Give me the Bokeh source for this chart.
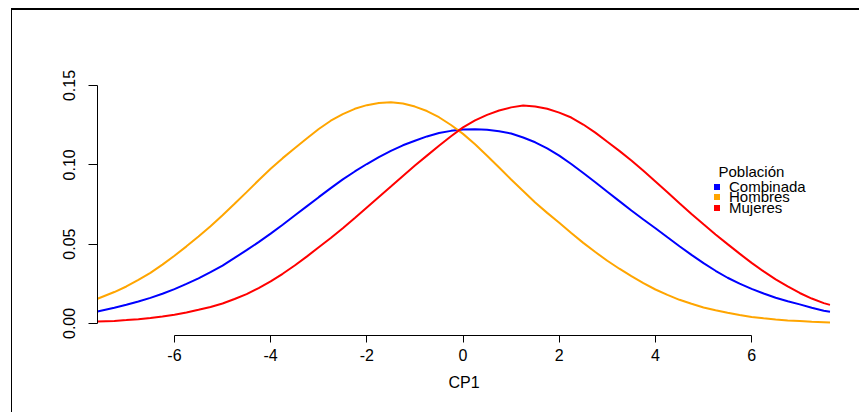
from bokeh.plotting import figure
from bokeh.models import (Range1d, FixedTicker, NumeralTickFormatter, Legend,
                          LegendItem, Label, ColumnDataSource)
from bokeh.embed import file_html
from bokeh.resources import INLINE

# ---- data (density curves of CP1) ----
cp1 = [-7.6, -7.25, -7.0, -6.75, -6.5, -6.25, -6.0, -5.75, -5.5, -5.25, -5.0,
       -4.75, -4.5, -4.25, -4.0, -3.75, -3.5, -3.25, -3.0, -2.75, -2.5, -2.25,
       -2.0, -1.75, -1.5, -1.25, -1.0, -0.75, -0.5, -0.25, 0.0, 0.25, 0.5,
       0.75, 1.0, 1.25, 1.5, 1.75, 2.0, 2.25, 2.5, 2.75, 3.0, 3.25, 3.5, 3.75,
       4.0, 4.25, 4.5, 4.75, 5.0, 5.25, 5.5, 5.75, 6.0, 6.25, 6.5, 6.75, 7.0,
       7.25, 7.5, 7.63]
combinada = [0.0075, 0.0099, 0.0118, 0.0138, 0.0161, 0.0187, 0.0216, 0.0249,
             0.0284, 0.0323, 0.0365, 0.0413, 0.0462, 0.0513, 0.0566, 0.0622,
             0.0680, 0.0738, 0.0796, 0.0853, 0.0908, 0.0958, 0.1005, 0.1049,
             0.1088, 0.1123, 0.1152, 0.1179, 0.1200, 0.1214, 0.1222, 0.1224,
             0.1221, 0.1212, 0.1197, 0.1172, 0.1142, 0.1103, 0.1058, 0.1005,
             0.0948, 0.0890, 0.0830, 0.0771, 0.0712, 0.0655, 0.0600, 0.0543,
             0.0487, 0.0432, 0.0380, 0.0332, 0.0288, 0.0251, 0.0218, 0.0189,
             0.0162, 0.0140, 0.0120, 0.0099, 0.0080, 0.0074]
hombres = [0.0156, 0.0198, 0.0233, 0.0274, 0.0319, 0.0371, 0.0427, 0.0486,
           0.0548, 0.0613, 0.0682, 0.0754, 0.0828, 0.0903, 0.0975, 0.1042,
           0.1104, 0.1166, 0.1226, 0.1278, 0.1320, 0.1353, 0.1376, 0.1390,
           0.1395, 0.1386, 0.1367, 0.1339, 0.1300, 0.1251, 0.1195, 0.1129,
           0.1057, 0.0983, 0.0907, 0.0835, 0.0762, 0.0697, 0.0635, 0.0570,
           0.0508, 0.0450, 0.0395, 0.0345, 0.0298, 0.0254, 0.0214, 0.0180,
           0.0149, 0.0124, 0.0101, 0.0083, 0.0067, 0.0053, 0.0041, 0.0032,
           0.0025, 0.0019, 0.0015, 0.0011, 0.0008, 0.0006]
mujeres = [0.0012, 0.0016, 0.0021, 0.0027, 0.0034, 0.0044, 0.0055, 0.0069,
           0.0086, 0.0104, 0.0126, 0.0154, 0.0185, 0.0223, 0.0265, 0.0313,
           0.0365, 0.0421, 0.0480, 0.0539, 0.0600, 0.0665, 0.0731, 0.0797,
           0.0863, 0.0930, 0.0995, 0.1058, 0.1120, 0.1180, 0.1236, 0.1280,
           0.1315, 0.1342, 0.1362, 0.1374, 0.1368, 0.1353, 0.1329, 0.1298,
           0.1254, 0.1203, 0.1145, 0.1088, 0.1027, 0.0962, 0.0895, 0.0827,
           0.0758, 0.0690, 0.0625, 0.0561, 0.0500, 0.0440, 0.0382, 0.0328,
           0.0278, 0.0233, 0.0192, 0.0157, 0.0128, 0.0117]

series_names = ["Combinada", "Hombres", "Mujeres"]
series_colors = ["#0000FF", "#FFA500", "#FF0000"]
x_ticks = [-6, -4, -2, 0, 2, 4, 6]
y_ticks = [0.0, 0.05, 0.10, 0.15]
legend_title = "Población"
x_label = "CP1"

FONT = "Liberation Sans"

src = ColumnDataSource(dict(cp1=cp1, Combinada=combinada,
                            Hombres=hombres, Mujeres=mujeres))

p = figure(width=848, height=404, output_backend="svg", toolbar_location=None,
           title=None, x_range=Range1d(-7.6, 7.64),
           y_range=Range1d(-0.0076, 0.1563),
           min_border_left=85, min_border_right=30, min_border_top=65,
           min_border_bottom=79, x_axis_label=x_label)
p.margin = (8, 0, 0, 11)
p.styles = {"border-top": "2px solid #000", "border-left": "1px solid #000"}
p.background_fill_color = "white"
p.border_fill_color = "white"
p.outline_line_color = None
p.xgrid.visible = False
p.ygrid.visible = False

# axes, R style (axis line only between first and last tick)
p.xaxis.ticker = FixedTicker(ticks=x_ticks)
p.xaxis.bounds = (x_ticks[0], x_ticks[-1])
p.xaxis.major_label_overrides = {t: str(t) for t in x_ticks}
p.yaxis.ticker = FixedTicker(ticks=y_ticks)
p.yaxis.bounds = (y_ticks[0], y_ticks[-1])
p.yaxis.formatter = NumeralTickFormatter(format="0.00")
p.yaxis.major_label_orientation = "vertical"
for ax in (p.xaxis, p.yaxis):
    ax.axis_line_color = "black"
    ax.axis_line_width = 1
    ax.major_tick_line_color = "black"
    ax.major_tick_in = 0
    ax.minor_tick_line_color = None
    ax.major_label_text_font = FONT
    ax.major_label_text_font_size = "16px"
    ax.major_label_text_color = "black"
p.xaxis.major_tick_out = 7
p.yaxis.major_tick_out = 9
p.xaxis.major_label_standoff = 6
p.yaxis.major_label_standoff = 13
p.xaxis.axis_label_text_font = FONT
p.xaxis.axis_label_text_font_size = "16px"
p.xaxis.axis_label_text_font_style = "normal"
p.xaxis.axis_label_text_color = "black"
p.xaxis.axis_label_standoff = 10

cols = dict(zip(series_names, series_colors))
for name in series_names:
    p.line("cp1", name, source=src, line_color=cols[name], line_width=2)

# legend: one compact entry per series (entries overlap slightly, as in the reference)
legend_y = [140.5, 129.8, 119.0]
for name, ly in zip(series_names, legend_y):
    s = p.scatter("cp1", name, source=src, marker="square", size=0,
                  fill_color=cols[name], line_color=None)
    lg = Legend(items=[LegendItem(label=name, renderers=[s])],
                location=(612, ly), padding=0, margin=0, spacing=0,
                glyph_width=15, glyph_height=15, label_height=1,
                label_width=1, label_standoff=5,
                label_text_font=FONT, label_text_font_size="15px",
                label_text_color="black", border_line_color=None,
                background_fill_alpha=0)
    p.add_layout(lg)

title_lbl = Label(x=621, y=164, x_units="screen", y_units="screen",
                  text=legend_title, text_font=FONT, text_font_size="15px",
                  text_color="black", text_baseline="alphabetic")
p.add_layout(title_lbl)

open("out.html", "w").write(file_html(p, INLINE))
